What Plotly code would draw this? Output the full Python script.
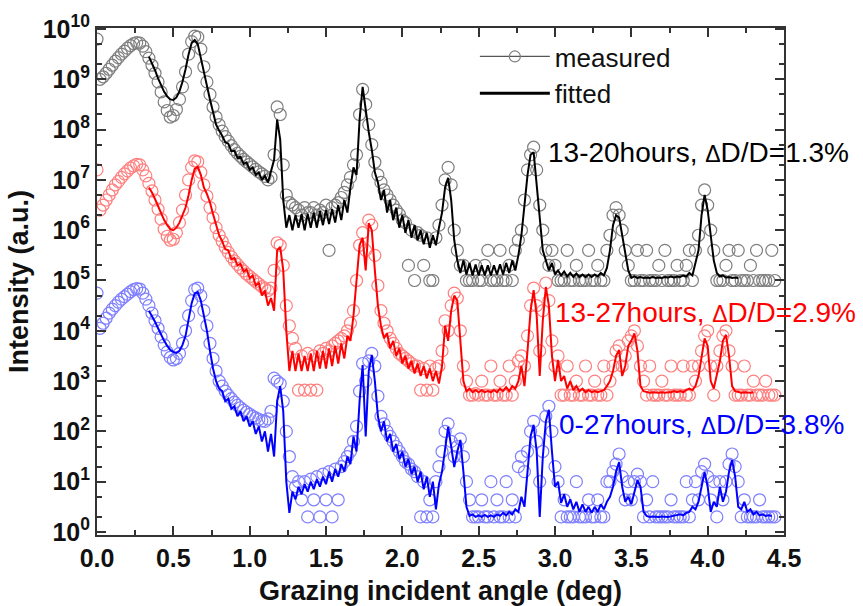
import plotly.graph_objects as go

# ---------------- data (log10 of intensity) ----------------
STEP = 0.02
MEAS_START = 0.00
FIT_START = 0.34

black_meas = [
    9.8, 9.0, 9.05, 9.12, 9.2, 9.28, 9.36, 9.43, 9.5, 9.56,          # 0.00-0.18
    9.62, 9.67, 9.71, 9.73, 9.72, 9.66, 9.55, 9.42, 9.28, 9.12,      # 0.20-0.38
    8.95, 8.75, 8.55, 8.38, 8.25, 8.28, 8.4, 8.6, 8.85, 9.15,        # 0.40-0.58
    9.5, 9.75, 9.86, 9.84, 9.6, 9.25, 8.95, 8.7, 8.45, 8.25,         # 0.60-0.78
    8.1, 7.97, 7.86, 7.77, 7.68, 7.6, 7.53, 7.47, 7.41, 7.36,        # 0.80-0.98
    7.31, 7.26, 7.21, 7.16, 7.12, 7.07, 7.0, 7.05, 7.5, 8.45,        # 1.00-1.18
    8.3, 7.3, 6.7, 6.55, 6.5, 6.45, 6.4, 6.3, 6.45, 6.35,            # 1.20-1.38
    6.35, 6.45, 6.3, 6.4, 6.35, 6.5, 5.6, 6.45, 6.5, 6.55,           # 1.40-1.58
    6.65, 6.75, 6.9, 7.05, 7.3, 7.5, 8.3, 8.8, 8.5, 8.1,             # 1.60-1.78
    7.7, 7.35, 7.1, 6.95, 6.8, 6.7, 6.6, 6.5, 6.4, 6.32,             # 1.80-1.98
    6.2, 6.15, 5.3, 6.0, 5.0, 5.95, 5.9, 5.3, 5.85, 5.0,             # 2.00-2.18
    5.0, 5.85, 6.1, 6.5, 7.0, 7.25, 6.9, 6.0, 5.6, 5.3,              # 2.20-2.38
    5.3, 5.0, 5.0, 5.0, 5.3, 5.0, 5.0, 5.3, 5.6, 5.0,                # 2.40-2.58
    5.0, 5.0, 5.6, 5.0, 5.0, 5.3, 5.0, 5.6, 5.8, 6.0,                # 2.60-2.78
    6.6, 7.2, 7.5, 7.65, 7.2, 6.5, 6.0, 5.6, 5.3, 5.6,               # 2.80-2.98
    5.3, 5.0, 5.0, 5.0, 5.6, 5.0, 5.0, 5.3, 5.0, 5.0,                # 3.00-3.18
    5.0, 5.6, 5.0, 5.0, 5.3, 5.0, 5.0, 5.6, 5.9, 6.3,                # 3.20-3.38
    6.45, 6.3, 6.0, 5.6, 5.3, 5.0, 5.0, 5.6, 5.0, 5.0,               # 3.40-3.58
    5.6, 5.0, 5.0, 5.0, 5.3, 5.0, 5.6, 5.0, 5.0, 5.0,                # 3.60-3.78
    5.3, 5.0, 5.0, 5.3, 5.6, 5.0, 5.6, 5.9, 6.5, 6.8,                # 3.80-3.98
    6.5, 6.0, 5.6, 5.0, 5.0, 5.0, 5.3, 5.6, 5.0, 5.0,                # 4.00-4.18
    5.6, 5.0, 5.0, 5.0, 5.3, 5.0, 5.6, 5.0, 5.0, 5.0,                # 4.20-4.38
    5.0, 5.6, 5.0,                                                   # 4.40-4.44
]

black_fit = [
    9.45, 9.32, 9.18,                                                # 0.34-0.38
    9.02, 8.88, 8.75, 8.66, 8.6, 8.59, 8.64, 8.76, 8.95, 9.2,        # 0.40-0.58
    9.5, 9.72, 9.78, 9.7, 9.42, 9.12, 8.88, 8.6, 8.35, 8.1,          # 0.60-0.78
    7.98, 7.88, 7.75, 7.72, 7.57, 7.58, 7.44, 7.46, 7.32, 7.35,      # 0.80-0.98
    7.2, 7.25, 7.1, 7.15, 7.0, 7.08, 6.95, 7.15, 7.4, 8.2,           # 1.00-1.18
    7.8, 6.6, 6.05, 6.3, 6.0, 6.3, 6.05, 6.32, 6.0, 6.33,            # 1.20-1.38
    6.05, 6.35, 6.05, 6.38, 6.1, 6.4, 6.12, 6.42, 6.15, 6.5,         # 1.40-1.58
    6.2, 6.6, 6.35, 6.85, 7.25, 7.1, 8.2, 8.85, 8.35, 7.95,          # 1.60-1.78
    7.6, 7.15, 6.95, 6.6, 6.8, 6.35, 6.6, 6.2, 6.45, 6.05,           # 1.80-1.98
    6.3, 5.95, 6.2, 5.85, 6.1, 5.8, 6.0, 5.72, 5.95, 5.65,           # 2.00-2.18
    5.9, 5.7, 6.05, 6.35, 6.85, 7.04, 6.6, 5.8, 5.4, 5.15,           # 2.20-2.38
    5.4, 5.12, 5.35, 5.1, 5.32, 5.1, 5.3, 5.1, 5.3, 5.1,             # 2.40-2.58
    5.3, 5.12, 5.32, 5.12, 5.35, 5.15, 5.4, 5.2, 5.5, 5.9,           # 2.60-2.78
    6.5, 7.1, 7.5, 7.55, 6.9, 6.3, 5.6, 5.4, 5.2, 5.35,              # 2.80-2.98
    5.12, 5.2, 5.1, 5.18, 5.08, 5.15, 5.07, 5.14, 5.07, 5.12,        # 3.00-3.18
    5.07, 5.12, 5.07, 5.12, 5.08, 5.15, 5.1, 5.25, 5.6, 6.1,         # 3.20-3.38
    6.3, 6.25, 5.9, 5.6, 5.2, 5.05, 5.08, 5.05, 5.07, 5.05,          # 3.40-3.58
    5.06, 5.05, 5.07, 5.05, 5.06, 5.05, 5.07, 5.06, 5.08, 5.06,      # 3.60-3.78
    5.08, 5.07, 5.1, 5.08, 5.15, 5.1, 5.35, 5.6, 6.3, 6.7,           # 3.80-3.98
    6.4, 5.9, 5.4, 5.15, 5.08, 5.1, 5.06, 5.07, 5.05, 5.06,          # 4.00-4.18
    5.05,                                                            # 4.20
]

red_meas = [
    7.2, 6.4, 6.5, 6.6, 6.7, 6.8, 6.9, 6.97, 7.05, 7.12,             # 0.00-0.18
    7.18, 7.24, 7.28, 7.31, 7.3, 7.2, 7.08, 6.93, 6.78, 6.6,         # 0.20-0.38
    6.42, 6.22, 6.02, 5.88, 5.8, 5.82, 5.95, 6.15, 6.4, 6.7,         # 0.40-0.58
    7.0, 7.25, 7.38, 7.36, 7.15, 6.9, 6.68, 6.45, 6.25, 6.05,        # 0.60-0.78
    5.9, 5.78, 5.66, 5.56, 5.47, 5.39, 5.32, 5.25, 5.19, 5.13,       # 0.80-0.98
    5.08, 5.03, 4.98, 4.93, 4.88, 4.84, 4.8, 4.85, 5.2, 5.75,        # 1.00-1.18
    5.7, 5.3, 4.5, 4.1, 3.85, 3.65, 2.82, 3.5, 2.82, 3.55,           # 1.20-1.38
    2.82, 3.5, 2.82, 3.6, 3.55, 3.65, 3.6, 3.7, 3.75, 3.8,           # 1.40-1.58
    3.85, 3.9, 4.0, 4.15, 4.4, 5.0, 5.7, 5.95, 5.6, 6.2,             # 1.60-1.78
    6.1, 5.5, 4.9, 4.4, 4.15, 4.0, 3.85, 3.75, 3.65, 3.55,           # 1.80-1.98
    3.5, 3.45, 3.4, 3.35, 3.3, 3.3, 2.82, 3.25, 2.82, 3.3,           # 2.00-2.18
    2.82, 3.25, 3.3, 3.6, 4.2, 4.0, 4.5, 4.75, 4.65, 4.0,            # 2.20-2.38
    3.3, 3.0, 2.72, 2.72, 2.75, 2.72, 3.0, 2.72, 2.72, 3.3,          # 2.40-2.58
    2.72, 2.72, 3.0, 2.72, 2.72, 3.3, 2.72, 3.0, 3.4, 3.5,           # 2.60-2.78
    3.3, 3.9, 4.5, 4.85, 4.5, 3.6, 4.4, 4.95, 4.6, 3.8,              # 2.80-2.98
    3.3, 3.5, 2.72, 2.72, 3.3, 2.72, 2.72, 3.0, 2.72, 2.72,          # 3.00-3.18
    3.3, 2.72, 2.72, 3.0, 2.72, 2.72, 3.3, 2.72, 3.0, 3.3,           # 3.20-3.38
    3.6, 3.7, 3.3, 3.5, 3.8, 3.9, 4.0, 3.7, 3.3, 3.0,                # 3.40-3.58
    2.72, 3.3, 2.72, 2.72, 2.72, 3.0, 2.72, 2.72, 3.3, 2.72,         # 3.60-3.78
    2.72, 2.72, 3.3, 2.72, 2.72, 3.3, 3.0, 3.3, 3.6, 3.9,            # 3.80-3.98
    4.0, 3.3, 2.72, 3.3, 3.6, 3.9, 4.0, 3.6, 3.3, 2.72,              # 4.00-4.18
    2.72, 2.72, 3.3, 2.72, 2.72, 3.0, 2.72, 2.72, 2.72, 3.0,         # 4.20-4.38
    2.72, 2.72, 2.72,                                                # 4.40-4.44
]

red_fit = [
    6.85, 6.75, 6.62,                                                # 0.34-0.38
    6.48, 6.35, 6.2, 6.1, 6.02, 6.0, 6.05, 6.15, 6.3, 6.45,          # 0.40-0.58
    6.7, 7.0, 7.22, 7.26, 7.1, 6.85, 6.72, 6.55, 6.32, 6.1,          # 0.60-0.78
    5.9, 5.78, 5.62, 5.6, 5.42, 5.45, 5.3, 5.33, 5.18, 5.22,         # 0.80-0.98
    5.05, 5.1, 4.9, 4.95, 4.7, 4.8, 4.5, 4.65, 4.4, 5.6,             # 1.00-1.18
    5.67, 5.2, 4.0, 3.2, 3.6, 3.2, 3.55, 3.2, 3.5, 3.2,              # 1.20-1.38
    3.55, 3.2, 3.6, 3.25, 3.6, 3.25, 3.65, 3.3, 3.7, 3.35,           # 1.40-1.58
    3.75, 3.45, 3.9, 3.8, 4.3, 5.0, 5.7, 5.85, 5.2, 6.14,            # 1.60-1.78
    6.0, 5.2, 4.5, 4.1, 3.85, 3.95, 3.65, 3.8, 3.5, 3.65,            # 1.80-1.98
    3.35, 3.5, 3.25, 3.4, 3.15, 3.35, 3.1, 3.3, 3.05, 3.25,          # 2.00-2.18
    3.0, 3.2, 2.95, 3.3, 4.1, 3.8, 4.4, 4.7, 4.6, 3.8,               # 2.20-2.38
    3.0, 2.8, 2.85, 2.78, 2.82, 2.78, 2.82, 2.78, 2.8, 2.78,         # 2.40-2.58
    2.82, 2.78, 2.85, 2.8, 2.88, 2.8, 2.9, 2.85, 3.0, 3.3,           # 2.60-2.78
    2.9, 3.6, 4.4, 4.81, 4.3, 3.1, 4.2, 4.87, 4.5, 3.5,              # 2.80-2.98
    3.0, 3.42, 3.0, 3.1, 2.85, 3.0, 2.82, 2.9, 2.8, 2.85,            # 3.00-3.18
    2.78, 2.82, 2.78, 2.8, 2.78, 2.8, 2.82, 2.9, 3.0, 3.2,           # 3.20-3.38
    3.5, 3.62, 3.1, 3.3, 3.7, 3.8, 3.95, 3.6, 2.9, 2.8,              # 3.40-3.58
    2.78, 2.77, 2.78, 2.77, 2.77, 2.78, 2.77, 2.78, 2.78, 2.8,       # 3.60-3.78
    2.78, 2.8, 2.78, 2.82, 2.85, 2.82, 2.9, 3.1, 3.5, 3.85,          # 3.80-3.98
    3.7, 3.0, 2.85, 3.1, 3.4, 3.8, 3.92, 3.5, 2.9, 2.8,              # 4.00-4.18
    2.78, 2.77, 2.78, 2.77, 2.77, 2.78,                              # 4.20-4.30
]

blue_meas = [
    4.75, 4.05, 4.15, 4.25, 4.35, 4.43, 4.5, 4.57, 4.63, 4.68,       # 0.00-0.18
    4.73, 4.78, 4.82, 4.84, 4.83, 4.75, 4.63, 4.5, 4.35, 4.2,        # 0.20-0.38
    4.05, 3.88, 3.72, 3.58, 3.47, 3.42, 3.45, 3.55, 3.75, 4.0,       # 0.40-0.58
    4.3, 4.6, 4.82, 4.85, 4.7, 4.4, 4.1, 3.75, 3.45, 3.2,            # 0.60-0.78
    3.0, 2.9, 2.8, 2.72, 2.65, 2.58, 2.52, 2.47, 2.42, 2.38,         # 0.80-0.98
    2.34, 2.3, 2.27, 2.24, 2.21, 2.2, 2.25, 2.4, 3.06, 3.0,          # 1.00-1.18
    2.95, 2.6, 2.0, 1.5, 1.1, 0.9, 1.0, 0.64, 1.0, 0.3,              # 1.20-1.38
    1.05, 0.64, 1.1, 0.3, 1.15, 0.64, 1.2, 0.3, 1.25, 0.64,          # 1.40-1.58
    1.3, 1.4, 1.5, 1.6, 1.8, 2.1, 2.8, 3.35, 3.0, 3.4,               # 1.60-1.78
    3.55, 3.3, 2.7, 2.3, 2.15, 2.0, 1.9, 1.8, 1.7, 1.6,              # 1.80-1.98
    1.5, 1.4, 1.35, 1.25, 1.2, 1.1, 0.3, 1.0, 0.3, 0.64,             # 2.00-2.18
    0.3, 1.0, 1.3, 1.6, 2.0, 2.15, 1.8, 1.5, 1.7, 1.85,              # 2.20-2.38
    1.5, 1.0, 0.64, 0.3, 0.3, 0.3, 0.64, 0.3, 0.3, 1.0,              # 2.40-2.58
    0.3, 0.64, 0.3, 0.3, 1.0, 0.3, 0.64, 0.3, 1.3, 1.5,              # 2.60-2.78
    1.2, 1.6, 2.0, 2.2, 1.8, 1.0, 1.6, 2.3, 2.5, 2.0,                # 2.80-2.98
    1.3, 1.0, 0.3, 0.64, 0.3, 0.3, 0.3, 1.0, 0.3, 0.3,               # 3.00-3.18
    0.3, 0.64, 0.3, 0.3, 0.64, 0.3, 0.3, 1.0, 1.0, 1.2,              # 3.20-3.38
    1.35, 1.55, 1.1, 0.64, 1.0, 0.64, 1.0, 1.15, 1.0, 0.3,           # 3.40-3.58
    0.64, 0.3, 1.0, 0.3, 0.3, 0.3, 0.3, 0.3, 0.64, 0.3,              # 3.60-3.78
    0.3, 0.3, 0.3, 1.0, 0.3, 0.64, 1.0, 0.64, 1.2, 1.35,             # 3.80-3.98
    1.1, 0.64, 1.0, 0.3, 1.0, 0.64, 1.0, 1.35, 1.55, 1.3,            # 4.00-4.18
    1.0, 0.3, 0.64, 0.3, 0.3, 0.3, 0.3, 0.64, 0.3, 0.3,              # 4.20-4.38
    0.3, 0.3, 0.3,                                                   # 4.40-4.44
]

blue_fit = [
    4.4, 4.3, 4.18,                                                  # 0.34-0.38
    4.05, 3.92, 3.8, 3.7, 3.62, 3.58, 3.56, 3.6, 3.72, 3.9,          # 0.40-0.58
    4.2, 4.55, 4.74, 4.77, 4.6, 4.3, 4.0, 3.6, 3.25, 3.0,            # 0.60-0.78
    2.85, 2.8, 2.6, 2.65, 2.45, 2.5, 2.3, 2.4, 2.2, 2.3,             # 0.80-0.98
    2.1, 2.2, 1.95, 2.1, 1.8, 2.0, 1.6, 1.95, 1.5, 2.6,              # 1.00-1.18
    2.9, 2.4, 1.0, 0.38, 0.8, 0.65, 0.9, 0.75, 0.95, 0.8,            # 1.20-1.38
    1.0, 0.85, 1.05, 0.9, 1.1, 0.95, 1.2, 1.0, 1.25, 1.1,            # 1.40-1.58
    1.35, 1.2, 1.5, 1.35, 1.9, 1.6, 2.6, 3.32, 1.9, 3.2,             # 1.60-1.78
    3.52, 3.0, 2.3, 2.0, 2.2, 1.8, 1.95, 1.6, 1.75, 1.45,            # 1.80-1.98
    1.6, 1.3, 1.45, 1.15, 1.3, 1.0, 1.2, 0.85, 1.1, 0.7,             # 2.00-2.18
    1.0, 0.45, 0.95, 1.2, 1.7, 2.09, 1.7, 1.29, 1.6, 1.83,           # 2.20-2.38
    1.2, 0.5, 0.32, 0.35, 0.3, 0.33, 0.3, 0.34, 0.3, 0.33,           # 2.40-2.58
    0.3, 0.35, 0.32, 0.38, 0.33, 0.4, 0.35, 0.45, 0.4, 0.7,          # 2.60-2.78
    0.5, 1.2, 1.9, 2.13, 1.6, 0.3, 1.49, 2.2, 2.43, 1.6,             # 2.80-2.98
    0.9, 1.0, 0.58, 0.75, 0.5, 0.65, 0.45, 0.6, 0.4, 0.55,           # 3.00-3.18
    0.4, 0.5, 0.38, 0.5, 0.4, 0.55, 0.45, 0.6, 0.7, 0.9,             # 3.20-3.38
    1.2, 1.39, 0.9, 0.6, 0.7, 0.55, 0.8, 1.03, 0.9, 0.4,             # 3.40-3.58
    0.32, 0.3, 0.31, 0.3, 0.3, 0.31, 0.3, 0.3, 0.31, 0.32,           # 3.60-3.78
    0.33, 0.35, 0.33, 0.38, 0.4, 0.5, 0.45, 0.6, 0.9, 1.19,          # 3.80-3.98
    0.9, 0.4, 0.6, 0.5, 0.9, 0.6, 0.8, 1.2, 1.43, 1.1,               # 4.00-4.18
    0.5, 0.45, 0.6, 0.4, 0.45, 0.35, 0.4, 0.33, 0.35, 0.32,          # 4.20-4.38
    0.33, 0.32,                                                      # 4.40-4.42
]

DELTA = '<span style="font-size:23px">\u0394</span>'
labels = [
    f"13-20hours, {DELTA}D/D=1.3%",
    f"13-27hours, {DELTA}D/D=2.9%",
    f"0-27hours, {DELTA}D/D=3.8%",
]
label_pos = [(2.94, 7.55), (2.99, 4.37), (3.01, 2.13)]

y_tick_exp = list(range(0, 11))
x_tick_vals = [0.0, 0.5, 1.0, 1.5, 2.0, 2.5, 3.0, 3.5, 4.0, 4.5]

# ---------------- styles ----------------
line_colors = ["#000000", "#ff0000", "#0000ff"]
mark_colors = ["#7f7f7f", "#ff7f7f", "#7f7fff"]
FONT = "Liberation Sans, Arial, sans-serif"


def grid(start, n):
    return [round(start + STEP * i, 2) for i in range(n)]


meas = [black_meas, red_meas, blue_meas]
fits = [black_fit, red_fit, blue_fit]

fig = go.Figure()

for vals, mc in zip(meas, mark_colors):
    fig.add_trace(go.Scatter(
        x=grid(MEAS_START, len(vals)), y=[10 ** v for v in vals],
        mode="markers",
        marker=dict(symbol="circle-open", size=12, color=mc, line=dict(width=1.2, color=mc)),
        showlegend=False, hoverinfo="skip"))

for vals, lc in zip(fits, line_colors):
    fig.add_trace(go.Scatter(
        x=grid(FIT_START, len(vals)), y=[10 ** v for v in vals],
        mode="lines", line=dict(color=lc, width=2),
        showlegend=False, hoverinfo="skip"))

# legend entries
fig.add_trace(go.Scatter(
    x=[None], y=[None], mode="lines+markers", name="measured",
    line=dict(color="#555555", width=1.2),
    marker=dict(symbol="circle-open", size=11, color="#7f7f7f", line=dict(width=1.2, color="#7f7f7f"))))
fig.add_trace(go.Scatter(
    x=[None], y=[None], mode="lines", name="fitted",
    line=dict(color="#000000", width=3)))

for text, (ax, ay), c in zip(labels, label_pos, line_colors):
    fig.add_annotation(x=ax, y=ay, yref="y", xref="x", text=text, showarrow=False,
                       xanchor="left", yanchor="middle",
                       font=dict(family=FONT, size=28, color=c))

axis_common = dict(
    showline=True, linecolor="#333333", linewidth=2, mirror="ticks",
    ticks="inside", tickcolor="#333333", tickwidth=1.5, ticklen=9,
    showgrid=False, zeroline=False, automargin=False,
    tickfont=dict(family=FONT, size=25, color="#111111", weight="bold"),
)

fig.update_xaxes(
    range=[0, 4.5], tickvals=x_tick_vals, ticktext=[f"{v:.1f}" for v in x_tick_vals],
    ticklabelstandoff=0,
    minor=dict(dtick=0.25, tick0=0, ticks="inside", ticklen=5, tickcolor="#333333", showgrid=False),
    title=dict(text="Grazing incident angle (deg)", standoff=17,
               font=dict(family=FONT, size=27, color="#111111", weight="bold")),
    **axis_common)

fig.update_yaxes(
    type="log", range=[-0.06, 10.02],
    tickvals=[10 ** e for e in y_tick_exp],
    ticktext=[f"10<sup>{e}</sup>" for e in y_tick_exp],
    minor=dict(ticks="inside", ticklen=5, tickcolor="#333333", showgrid=False),
    title=dict(text="Intensity (a.u.)", standoff=6,
               font=dict(family=FONT, size=27, color="#111111", weight="bold")),
    **axis_common)

fig.update_layout(
    width=863, height=606,
    margin=dict(l=97, r=79, t=28, b=71),
    paper_bgcolor="white", plot_bgcolor="white",
    font=dict(family=FONT, color="#111111"),
    legend=dict(x=0.55, y=0.99, xanchor="left", yanchor="top",
                bgcolor="rgba(0,0,0,0)", font=dict(family=FONT, size=26, color="#111111"),
                itemwidth=70, tracegroupgap=0),
)

fig.write_html("out.html")
